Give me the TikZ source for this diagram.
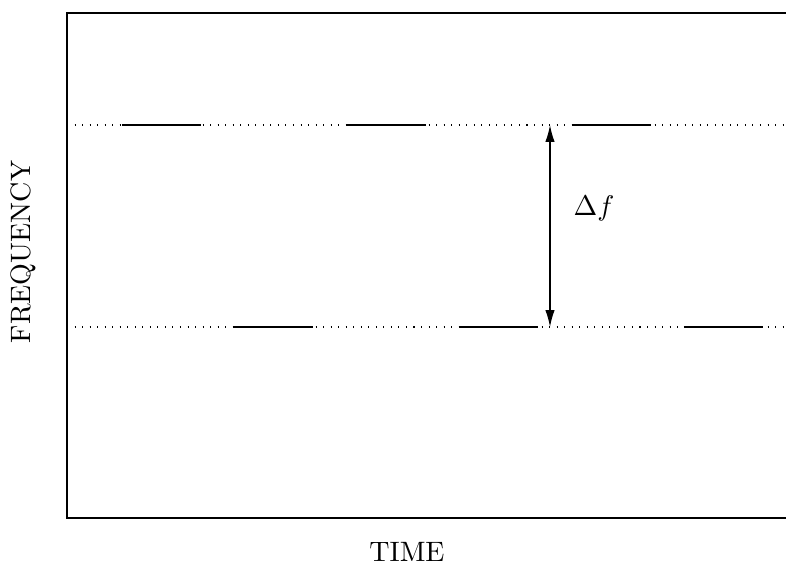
\documentclass[tikz,border=0pt]{standalone}
\usepackage{tikz}
\usetikzlibrary{arrows.meta}

\begin{document}
\begin{tikzpicture}[
  x=0.385pt, y=-0.385pt,
  every node/.style={font=\fontsize{10.8}{13}\selectfont},
  level/.style={dash pattern=on 0.4pt off 2.5pt, line width=0.4pt},
  tone/.style={line width=0.55pt},
  arrow/.style={{Latex[length=6.5pt,width=3.6pt]}-{Latex[length=6.5pt,width=3.6pt]}, line width=0.5pt},
]
  \useasboundingbox (0,0) rectangle (786,565);
  \draw[line width=0.4pt] (800,13) -- (67,13) -- (67,518) -- (800,518);

  % frequency levels
  \draw[level] (67,125) -- (800,125);
  \draw[level] (67,327) -- (800,327);

  % hopping tones
  \foreach \x in {122,347,572} \draw[tone] (\x,125) -- ++(79,0);
  \foreach \x in {234,459,684} \draw[tone] (\x,327) -- ++(79,0);

  \coordinate (hi) at (550,125);
  \coordinate (lo) at (550,327);
  \draw[arrow] (hi) -- (lo);
  \node (df) at (594,208) {$\Delta f$};

  \node (time) at (407,552) {TIME};
  \node[rotate=90] (freq) at (23,252) {FREQUENCY};
\end{tikzpicture}
\end{document}
